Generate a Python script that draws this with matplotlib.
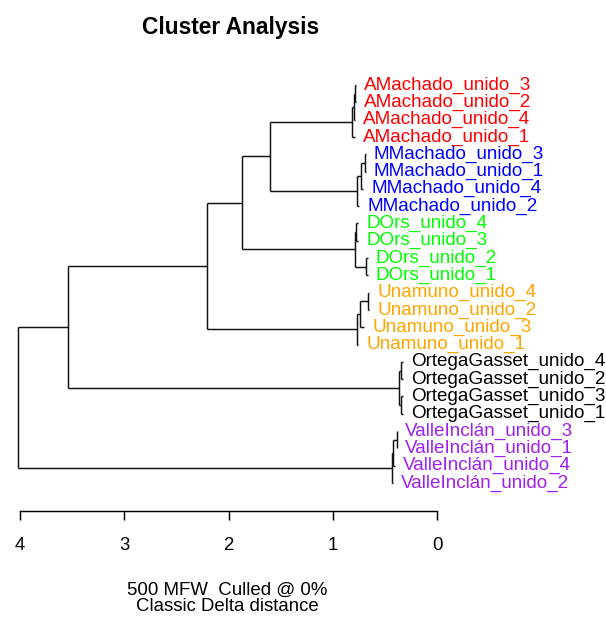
import matplotlib
matplotlib.use("Agg")
import matplotlib.pyplot as plt

# leaves, top to bottom
labels = [
    "AMachado_unido_3", "AMachado_unido_2", "AMachado_unido_4", "AMachado_unido_1",
    "MMachado_unido_3", "MMachado_unido_1", "MMachado_unido_4", "MMachado_unido_2",
    "DOrs_unido_4", "DOrs_unido_3", "DOrs_unido_2", "DOrs_unido_1",
    "Unamuno_unido_4", "Unamuno_unido_2", "Unamuno_unido_3", "Unamuno_unido_1",
    "OrtegaGasset_unido_4", "OrtegaGasset_unido_2", "OrtegaGasset_unido_3", "OrtegaGasset_unido_1",
    "ValleInclán_unido_3", "ValleInclán_unido_1", "ValleInclán_unido_4", "ValleInclán_unido_2",
]
label_colors = ["#FF0000"] * 4 + ["#0000FF"] * 4 + ["#00FF00"] * 4 + \
               ["#FFA500"] * 4 + ["#000000"] * 4 + ["#A020F0"] * 4

# distance of each tip (axis units)
tip_dist = [0.780, 0.780, 0.785, 0.790,
            0.684, 0.684, 0.708, 0.746,
            0.756, 0.756, 0.669, 0.669,
            0.650, 0.650, 0.698, 0.756,
            0.324, 0.324, 0.324, 0.324,
            0.386, 0.386, 0.408, 0.428]

# merges: node id 24 + k joins (a, b) at merge_dist[k]
merges = [(0, 1), (24, 2), (25, 3),
          (4, 5), (27, 6), (28, 7),
          (8, 9), (10, 11), (30, 31),
          (12, 13), (33, 14), (34, 15),
          (16, 17), (18, 19), (36, 37),
          (20, 21), (39, 22), (40, 23),
          (26, 29), (42, 32), (43, 35), (44, 38), (45, 41)]
merge_dist = [0.787, 0.795, 0.821,
              0.693, 0.734, 0.770,
              0.775, 0.686, 0.789,
              0.667, 0.741, 0.773,
              0.348, 0.348, 0.367,
              0.389, 0.422, 0.431,
              1.607, 1.870, 2.211, 3.544, 4.017]

ticks = [4, 3, 2, 1, 0]

W, H = 606, 621
fig = plt.figure(figsize=(W / 100, H / 100), dpi=100)
ax = fig.add_axes([20 / W, 1 - 483 / H, 417.3 / W, 398 / H])
ax.set_xlim(4, 0)
ax.set_ylim(len(labels) - 1, 0)

n = len(labels)
xs = list(tip_dist)
ys = list(range(n))
for (a, b), d in zip(merges, merge_dist):
    xs.append(d)
    ys.append((ys[a] + ys[b]) / 2)
    ax.plot([d, d], [ys[a], ys[b]], color="#111111", lw=1.05, clip_on=False,
            solid_capstyle="butt")
    for c in (a, b):
        ax.plot([d, xs[c]], [ys[c], ys[c]], color="#111111", lw=1.05, clip_on=False,
                solid_capstyle="butt")

font = "Liberation Sans"
for i, (lab, col) in enumerate(zip(labels, label_colors)):
    ax.annotate(lab, (tip_dist[i], i), xytext=(5.8, 0), textcoords="offset points",
                ha="left", va="center", color=col, fontsize=13.6, family=font,
                annotation_clip=False)

for s in ("top", "right", "left"):
    ax.spines[s].set_visible(False)
ax.spines["bottom"].set_position(("outward", 19.9))
ax.spines["bottom"].set_bounds(0, 4)
ax.spines["bottom"].set_linewidth(1.05)
ax.set_yticks([])
ax.set_xticks(ticks)
ax.set_xticklabels([str(t) for t in ticks], family=font, fontsize=13.4)
ax.tick_params(axis="x", direction="out", length=6.7, width=1.05, pad=12)
ax.patch.set_visible(False)

fig.text(230.8 / W, 1 - 34 / H, "Cluster Analysis", ha="center", va="baseline",
         fontsize=16.4, fontweight="bold", family=font)
fig.text(227.2 / W, 1 - 610.7 / H, "500 MFW  Culled @ 0%\nClassic Delta distance",
         ha="center", va="baseline", multialignment="center", linespacing=0.95,
         fontsize=13.4, family=font)

fig.savefig("out.png", dpi=100, facecolor="white")
